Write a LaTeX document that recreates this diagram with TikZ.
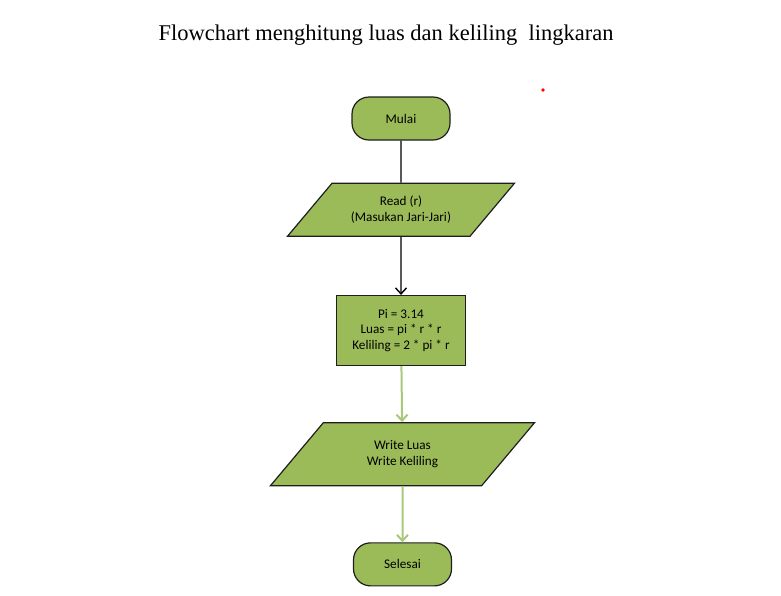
\documentclass[tikz,border=0pt]{standalone}
\usepackage{fontspec}
\setmainfont{Carlito}
\newfontfamily\titlefont{Liberation Serif}
\usetikzlibrary{shapes.geometric, arrows.meta, positioning}
\definecolor{boxgreen}{HTML}{9BBB59}
\definecolor{linegreen}{HTML}{A8C87C}
\definecolor{boxline}{HTML}{1E1E1E}

\begin{document}
\begin{tikzpicture}[
    x=1pt, y=1pt,
    node distance=56pt,
    base/.style={draw=boxline, line width=1.2pt, fill=boxgreen, align=center, inner sep=0pt, font=\fontsize{13.2}{15.6}\selectfont},
    term/.style={base, rectangle, rounded corners=17pt, minimum width=98pt, minimum height=43pt},
    io/.style={base, trapezium, trapezium left angle=50, trapezium right angle=130, trapezium stretches body},
    proc/.style={base, rectangle, minimum width=129pt, minimum height=70pt},
    line/.style={line width=1.4pt, black},
    arrow/.style={line, -{Straight Barb[length=6pt, width=11pt]}},
    garrow/.style={arrow, draw=linegreen, line width=2pt}
]

\useasboundingbox (0,0) rectangle (781,-595);

% Title
\node[font=\titlefont\fontsize{22.5}{26}\selectfont] (title) at (386,-35) {Flowchart menghitung luas dan keliling\ \ lingkaran};

% Mark
\fill[red] (543,-90) circle (1.8pt);

% Start
\node[term] (start) at (401,-118.5) {Mulai};

% Input
\node[io, inner ysep=13pt, minimum width=227pt, below=42pt of start] (read) {Read (r)\\(Masukan Jari-Jari)};

% Process
\node[proc, below=58pt of read] (calc) {Pi = 3.14\\Luas = pi * r * r\\Keliling = 2 * pi * r};

% Output
\node[io, inner ysep=18pt, minimum width=264pt, below=of calc, xshift=1.5pt] (write) {Write Luas\\Write Keliling};

% End
\node[term, below=of write] (stop) {Selesai};

% Arrows
\draw[line] (start) -- (read);
\draw[arrow] (read) -- (calc);
\draw[garrow] (calc) -- (write);
\draw[garrow] (write) -- (stop);

\end{tikzpicture}
\end{document}
